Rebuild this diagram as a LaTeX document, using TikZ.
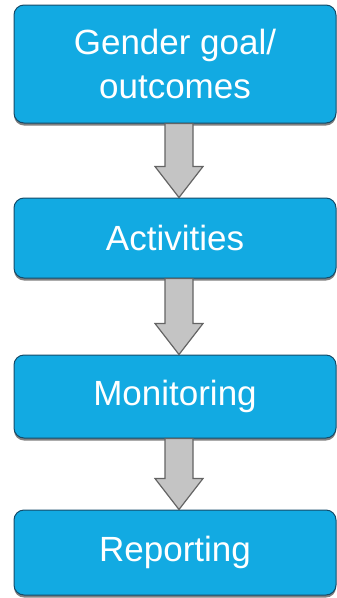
\documentclass[tikz,border=0pt]{standalone}
\usepackage{fontspec}
\setmainfont{Liberation Sans}
\usetikzlibrary{calc,shadows}
\definecolor{boxfill}{RGB}{18,170,226}
\definecolor{boxline}{RGB}{20,75,105}
\definecolor{arrfill}{RGB}{196,196,196}
\definecolor{arrline}{RGB}{100,100,100}
\tikzset{
  stage/.style={draw=boxline, line width=1pt, fill=boxfill, rounded corners=10pt,
    minimum width=322pt, text=white, align=center, inner sep=0pt,
    font=\fontsize{35}{44}\selectfont,
    drop shadow={shadow xshift=0pt, shadow yshift=-2.5pt, fill=gray, opacity=1}},
  blockarr/.style={draw=arrline, line width=1.2pt, fill=arrfill, line join=miter}
}
\newcommand\blockarrow[2]{%
  \draw[blockarr] ($(#1.south)+(-10pt,0)$) -- ($(#2.north)+(-10pt,31pt)$)
    -- ($(#2.north)+(-20pt,31pt)$) -- ($(#2.north)+(4pt,0)$)
    -- ($(#2.north)+(28pt,31pt)$) -- ($(#2.north)+(18pt,31pt)$)
    -- ($(#1.south)+(18pt,0)$) -- cycle;}
\begin{document}
\begin{tikzpicture}
\useasboundingbox (0,0) rectangle (337pt,-598pt);
\node[stage, minimum height=118pt] (g) at (175pt,-64pt) {Gender goal/\\outcomes};
\node[stage, minimum height=80pt] (a) at (175pt,-238pt) {Activities};
\node[stage, minimum height=83pt] (m) at (175pt,-396.5pt) {Monitoring};
\node[stage, minimum height=85pt] (r) at (175pt,-552.5pt) {Reporting};
\blockarrow{g}{a}
\blockarrow{a}{m}
\blockarrow{m}{r}
\end{tikzpicture}
\end{document}
